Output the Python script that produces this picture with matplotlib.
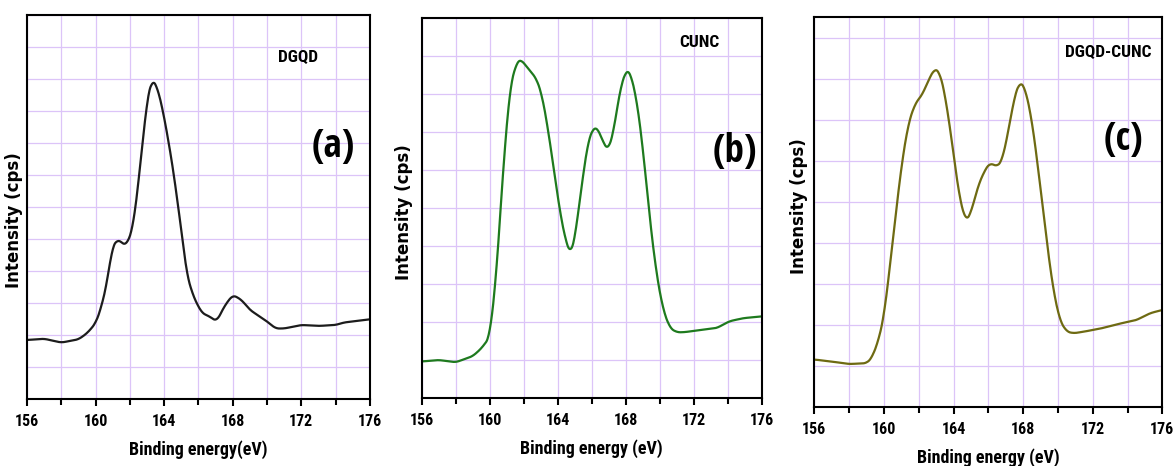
import numpy as np
import matplotlib
matplotlib.use("Agg")
import matplotlib.pyplot as plt
from matplotlib.ticker import MultipleLocator, NullFormatter

# (a) DGQD
x_a = [156, 157, 158, 159, 159.5, 160, 160.3, 160.66, 160.95, 161.24, 161.5, 161.8, 162.2,
       162.6, 163.0, 163.28, 163.6, 164.0, 164.5, 165.0, 165.3, 165.7, 166.2, 166.6, 167.07,
       167.5, 168.0, 168.5, 169.0, 169.5, 170.0, 170.5, 171.0, 172.0, 173.0, 174.0, 174.5, 175.0, 176]
y_a = [1.84, 1.88, 1.76, 1.86, 2.05, 2.36, 2.8, 3.6, 4.7, 4.99, 4.9, 4.78, 5.4,
       7.26, 9.34, 10.0, 9.76, 8.82, 7.26, 5.28, 3.93, 3.2, 2.68, 2.59, 2.42,
       2.89, 3.25, 3.1, 2.78, 2.6, 2.42, 2.2, 2.2, 2.31, 2.28, 2.31, 2.39, 2.42, 2.49]

# (b) CUNC
x_b = [156, 157, 158, 159, 159.5, 160, 160.4, 160.8, 161.2, 161.6, 161.82, 162.4, 162.76,
       163.06, 163.35, 163.75, 164.14, 164.5, 164.76, 165.0, 165.4, 165.8, 166.1, 166.3,
       166.7, 166.98, 167.3, 167.7, 168.06, 168.25, 168.65, 169.04, 169.4, 169.8, 170.2,
       170.6, 171.0, 171.4, 172.6, 173.35, 174.1, 174.9, 176]
y_b = [0.96, 1.0, 0.94, 1.1, 1.3, 1.6, 3.3, 6.1, 8.2, 8.86, 8.92, 8.6, 8.4,
       8.0, 7.3, 6.1, 4.87, 4.08, 3.77, 4.17, 5.57, 6.8, 7.1, 7.15,
       6.71, 6.5, 7.06, 8.2, 8.66, 8.6, 7.85, 6.45, 4.78, 3.29, 2.32,
       1.84, 1.73, 1.73, 1.8, 1.84, 2.02, 2.1, 2.15]

# (c) DGQD-CUNC
x_c = [156, 157, 158, 159, 159.3, 159.7, 160.0, 160.3, 160.6, 161.0, 161.4, 161.8, 162.2,
       162.5, 162.9, 163.2, 163.5, 163.9, 164.3, 164.7, 165.0, 165.4, 165.8, 166.1, 166.5,
       166.8, 167.2, 167.5, 167.8, 168.1, 168.5, 168.9, 169.3, 169.7, 170.1, 170.5, 170.9,
       171.5, 172.5, 173.5, 174.5, 175.3, 176]
y_c = [1.15, 1.1, 1.04, 1.06, 1.18, 1.63, 2.2, 3.25, 4.39, 5.85, 6.9, 7.4, 7.6,
       7.9, 8.25, 8.17, 7.64, 6.5, 5.2, 4.5, 4.72, 5.37, 5.77, 5.95, 5.85,
       6.0, 6.83, 7.56, 7.93, 7.8, 7.0, 5.69, 4.23, 2.93, 2.11, 1.83, 1.79,
       1.83, 1.91, 2.02, 2.11, 2.28, 2.36]

narrow = ["Roboto Condensed", "Fira Sans Condensed", "Liberation Sans", "DejaVu Sans"]
tagfont = ["Open Sans Condensed", "Fira Sans Condensed", "Roboto Condensed", "DejaVu Sans"]

panels = [
    dict(x=x_a, y=y_a, color="#1c1c1c", ymax=12, name="DGQD", tag="(a)",
         pos=[0.023, 0.144, 0.2924, 0.824], name_xy=(0.79, 0.89), tag_xy=(0.892, 0.656),
         ylab_xy=(-0.012, 0.466), xlabel="Binding energy(eV)"),
    dict(x=x_b, y=y_b, color="#1e7a1e", ymax=10, name="CUNC", tag="(b)",
         pos=[0.3595, 0.146, 0.2899, 0.815], name_xy=(0.818, 0.935), tag_xy=(0.921, 0.648),
         ylab_xy=(-0.026, 0.49), xlabel="Binding energy (eV)"),
    dict(x=x_c, y=y_c, color="#6e6a12", ymax=9.5, name="DGQD-CUNC", tag="(c)",
         pos=[0.6942, 0.1273, 0.2967, 0.836], name_xy=(0.844, 0.908), tag_xy=(0.887, 0.685),
         ylab_xy=(-0.018, 0.515), xlabel="Binding energy (eV)"),
]

fig = plt.figure(figsize=(11.73, 4.66), dpi=100)

for p in panels:
    ax = fig.add_axes(p["pos"])
    xs = np.linspace(156, 176, 600)
    ys = np.interp(xs, p["x"], p["y"])
    ys = np.convolve(np.pad(ys, 6, mode="edge"), np.ones(13) / 13, mode="valid")
    ax.plot(xs, ys, color=p["color"], lw=1.6)
    ax.set_xlim(156, 176)
    ax.set_ylim(0, p["ymax"])
    ax.xaxis.set_major_locator(MultipleLocator(4))
    ax.xaxis.set_minor_locator(MultipleLocator(2))
    ax.yaxis.set_major_locator(MultipleLocator(1))
    ax.yaxis.set_major_formatter(NullFormatter())
    ax.tick_params(axis="y", length=0)
    ax.tick_params(axis="x", which="major", direction="out", length=5, width=1.5, pad=6)
    ax.tick_params(axis="x", which="minor", direction="out", length=4, width=1.5)
    ax.grid(True, which="both", color="#dcc4f8", lw=0.9)
    ax.set_axisbelow(True)
    for s in ax.spines.values():
        s.set_linewidth(1.5)
    for lab in ax.get_xticklabels():
        lab.set_family(narrow)
        lab.set_fontweight("bold")
        lab.set_fontsize(11.5)
    ax.set_xlabel(p["xlabel"], family=narrow, fontweight="bold", fontsize=13, labelpad=8)
    ax.set_ylabel("Intensity (cps)", fontweight="bold", fontsize=12, family=["DejaVu Sans"])
    ax.yaxis.set_label_coords(*p["ylab_xy"])
    ax.text(*p["name_xy"], p["name"], transform=ax.transAxes, ha="center", va="center",
            family=narrow, fontweight="bold", fontsize=12.5)
    ax.text(*p["tag_xy"], p["tag"], transform=ax.transAxes, ha="center", va="center",
            family=tagfont, fontweight="bold", fontsize=28)

fig.savefig("out.png", dpi=100)
